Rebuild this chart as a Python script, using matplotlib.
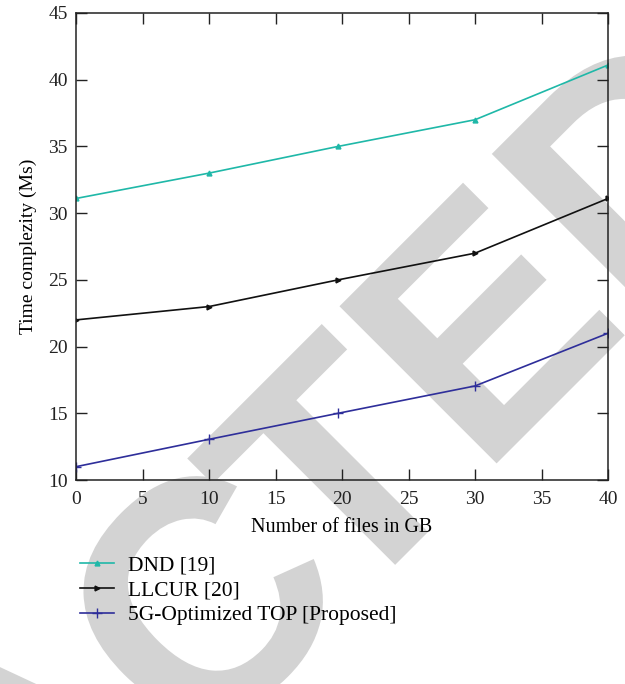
import matplotlib
matplotlib.use("Agg")
import matplotlib.pyplot as plt
from matplotlib.textpath import TextPath
from matplotlib.patches import PathPatch
from matplotlib.font_manager import FontProperties
from matplotlib.transforms import Affine2D

# Data series
x_vals = [0, 10, 19.7, 30, 40]
dnd = [31.1, 33.0, 35.0, 37.0, 41.1]
llcur = [22.0, 23.0, 25.0, 27.0, 31.1]
proposed = [11.0, 13.05, 15.0, 17.05, 21.0]

series_labels = ["DND [19]", "LLCUR [20]", "5G-Optimized TOP [Proposed]"]
x_ticks = [0, 5, 10, 15, 20, 25, 30, 35, 40]
y_ticks = [10, 15, 20, 25, 30, 35, 40, 45]

plt.rcParams["font.family"] = ["Liberation Serif", "DejaVu Serif"]

W, H = 625, 684
fig = plt.figure(figsize=(W / 100, H / 100), dpi=100)
ax = fig.add_axes([0.1216, 0.2982, 0.8512, 0.6828])
ax.set_facecolor("none")

# Diagonal background stamp in pixel space, behind the axes.
# Drawn in pieces so the letter spacing can be tightened a little.
stamp_font = FontProperties(family="Liberation Sans", weight="bold")
tail = TextPath((0, 0), "TED", size=323, prop=stamp_font)
head_full = TextPath((0, 0), "RETRAC", size=330, prop=stamp_font)
head = TextPath((0, 0), "RETRA", size=330, prop=stamp_font)
letter_c = TextPath((0, 0), "C", size=330, prop=stamp_font)
tail_end = tail.vertices[:, 0].max()
tail_start = tail.vertices[:, 0].min()
head_end = head_full.vertices[:, 0].max()
c_end = letter_c.vertices[:, 0].max()
gap = -22
head_shift = 15
place = Affine2D().rotate_deg(45).translate(789, H - 171)
pieces = [
    (tail, Affine2D().translate(-tail_end, 0) + place),
    (letter_c, Affine2D().translate(tail_start - gap - c_end - tail_end, 0) + place),
    (head, Affine2D().translate(tail_start - gap - head_end - tail_end + head_shift, 0) + place),
]
for path, tf in pieces:
    fig.add_artist(PathPatch(path, facecolor="#d3d3d3", edgecolor="none",
                             transform=tf, zorder=-5))

ax.plot(x_vals, dnd, color="#1fb8a8", lw=1.2, marker="^", ms=3.5,
        label=series_labels[0])
ax.plot(x_vals, llcur, color="#111111", lw=1.2, marker=">", ms=3.5,
        label=series_labels[1])
ax.plot(x_vals, proposed, color="#2e2e9a", lw=1.2, marker="+", ms=7,
        mew=1.0, label=series_labels[2])

ax.set_xlim(0, 40)
ax.set_ylim(10, 45)
ax.set_xticks(x_ticks)
ax.set_yticks(y_ticks)
ax.tick_params(direction="in", length=8, width=1, top=True, right=True,
               labelsize=14, pad=6, colors="#222222")
ax.tick_params(axis="x", pad=8)
for sp in ax.spines.values():
    sp.set_linewidth(1.1)
    sp.set_color("#222222")

ax.set_xlabel("Number of files in GB", fontsize=14.5, labelpad=7)
ax.set_ylabel("Time complezity (Ms)", fontsize=14, labelpad=8)

fig.legend(loc="upper left", bbox_to_anchor=(0.115, 0.2), frameon=False,
           fontsize=15.5, handlelength=1.55, handletextpad=0.65,
           labelspacing=0.22, borderaxespad=0)

fig.savefig("out.png", dpi=100)
